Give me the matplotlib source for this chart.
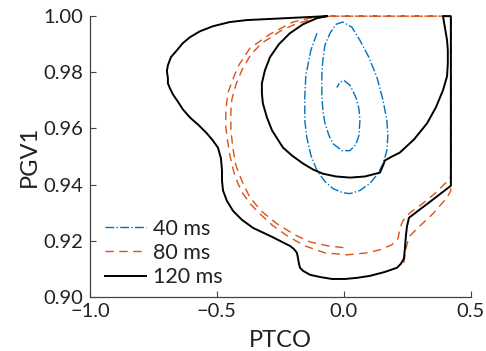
import numpy as np
import matplotlib
matplotlib.use('Agg')
import matplotlib.pyplot as plt

plt.rcParams['font.family'] = ['Lato', 'DejaVu Sans']

# trajectories in the (PTCO, PGV1) plane for three delays
ptco_40 = [-0.106, -0.130, -0.150, -0.154, -0.154, -0.146, -0.130, -0.106, -0.075, -0.043,
           -0.004, 0.024, 0.063, 0.102, 0.134, 0.154, 0.169, 0.173, 0.169, 0.154,
           0.130, 0.098, 0.063, 0.031, -0.004, -0.031, -0.055, -0.075, -0.083, -0.087,
           -0.087, -0.083, -0.075, -0.059, -0.043, -0.008, 0.024, 0.047, 0.059, 0.063,
           0.059, 0.047, 0.024, 0.000, -0.016, -0.028]
pgv1_40 = [0.9939, 0.9879, 0.9789, 0.9711, 0.9629, 0.9568, 0.9504, 0.9450, 0.9411, 0.9386,
           0.9371, 0.9368, 0.9379, 0.9404, 0.9439, 0.9475, 0.9521, 0.9575, 0.9629, 0.9700,
           0.9782, 0.9854, 0.9914, 0.9961, 0.9979, 0.9971, 0.9939, 0.9896, 0.9843, 0.9789,
           0.9725, 0.9664, 0.9621, 0.9575, 0.9546, 0.9521, 0.9521, 0.9543, 0.9575, 0.9629,
           0.9671, 0.9711, 0.9754, 0.9771, 0.9764, 0.9746]

ptco_80 = [0.236, 0.244, 0.256, 0.291, 0.350, 0.406, 0.421, 0.421,
           -0.055, -0.134, -0.201, -0.291, -0.370, -0.417, -0.445, -0.457, -0.465, -0.465,
           -0.465, -0.457, -0.449, -0.433, -0.417, -0.398, -0.366, -0.331, -0.280, -0.224,
           -0.154, -0.075, 0.012, 0.091, 0.142, 0.189, 0.213, 0.220, 0.232, 0.260,
           0.299, 0.358, 0.406, 0.421, 0.421,
           -0.055, -0.126, -0.193, -0.252, -0.323, -0.366, -0.402, -0.425, -0.441, -0.445,
           -0.445, -0.437, -0.425, -0.402, -0.370, -0.323, -0.264, -0.193, -0.134, -0.063,
           0.004]
pgv1_80 = [0.9121, 0.9171, 0.9214, 0.9246, 0.9296, 0.9354, 0.9379, 1.0000,
           1.0000, 0.9993, 0.9979, 0.9936, 0.9886, 0.9821, 0.9757, 0.9725, 0.9664, 0.9629,
           0.9604, 0.9550, 0.9504, 0.9443, 0.9404, 0.9368, 0.9329, 0.9296, 0.9254, 0.9218,
           0.9182, 0.9157, 0.9150, 0.9157, 0.9168, 0.9186, 0.9207, 0.9243, 0.9271, 0.9300,
           0.9325, 0.9368, 0.9411, 0.9429, 1.0000,
           1.0000, 0.9989, 0.9971, 0.9946, 0.9904, 0.9864, 0.9807, 0.9757, 0.9704, 0.9664,
           0.9593, 0.9529, 0.9468, 0.9414, 0.9354, 0.9304, 0.9261, 0.9221, 0.9196, 0.9182,
           0.9175]

ptco_120 = [-0.067, -0.106, -0.161, -0.213, -0.256, -0.291, -0.311, -0.323, -0.323, -0.319,
            -0.303, -0.283, -0.240, -0.205, -0.161, -0.122, -0.083, -0.031, 0.024, 0.083,
            0.142, 0.154, 0.161, 0.189, 0.220, 0.276, 0.327, 0.362, 0.390, 0.406,
            0.409, 0.409, 0.406, 0.398, 0.390, 0.421, 0.421, 0.339, 0.256, 0.248,
            0.244, 0.240, 0.236, 0.224, 0.209, 0.161, 0.102, 0.051, 0.004, -0.047,
            -0.094, -0.134, -0.161, -0.173, -0.177, -0.181, -0.185, -0.197, -0.213, -0.283,
            -0.358, -0.402, -0.437, -0.461, -0.476, -0.480, -0.480, -0.484, -0.496, -0.516,
            -0.539, -0.571, -0.606, -0.634, -0.657, -0.673, -0.685, -0.693, -0.693, -0.697,
            -0.693, -0.681, -0.657, -0.634, -0.606, -0.567, -0.516, -0.449, -0.382, -0.224,
            -0.067]
pgv1_120 = [1.0000, 0.9993, 0.9971, 0.9939, 0.9900, 0.9854, 0.9807, 0.9761, 0.9725, 0.9689,
            0.9639, 0.9593, 0.9532, 0.9504, 0.9475, 0.9454, 0.9439, 0.9429, 0.9425, 0.9429,
            0.9443, 0.9468, 0.9486, 0.9500, 0.9514, 0.9561, 0.9618, 0.9675, 0.9736, 0.9786,
            0.9832, 0.9879, 0.9914, 0.9957, 1.0000, 1.0000, 0.9396, 0.9339, 0.9282, 0.9250,
            0.9218, 0.9171, 0.9136, 0.9118, 0.9104, 0.9089, 0.9075, 0.9068, 0.9064, 0.9064,
            0.9071, 0.9079, 0.9093, 0.9104, 0.9118, 0.9139, 0.9157, 0.9171, 0.9182, 0.9214,
            0.9246, 0.9275, 0.9307, 0.9343, 0.9379, 0.9414, 0.9450, 0.9493, 0.9532, 0.9557,
            0.9582, 0.9611, 0.9639, 0.9668, 0.9700, 0.9721, 0.9743, 0.9761, 0.9779, 0.9804,
            0.9825, 0.9854, 0.9879, 0.9904, 0.9925, 0.9946, 0.9964, 0.9979, 0.9986, 0.9993,
            1.0000]

labels = ['40 ms', '80 ms', '120 ms']
colors = ['#0072BD', '#D95319', 'black']

fig = plt.figure(figsize=(4.86, 3.51), dpi=100)
ax = fig.add_axes([0.185, 0.154, 0.784, 0.80])

ax.plot(ptco_40, pgv1_40, '-.', color=colors[0], lw=1.0, label=labels[0], clip_on=False)
ax.plot(ptco_80, pgv1_80, '--', color=colors[1], lw=1.0, label=labels[1], clip_on=False,
        dashes=(6, 4))
ax.plot(ptco_120, pgv1_120, '-', color=colors[2], lw=1.4, label=labels[2], clip_on=False)

ax.set_xlim(-1.0, 0.5)
ax.set_ylim(0.90, 1.00)
ax.set_xticks([-1.0, -0.5, 0.0, 0.5])
ax.set_yticks(np.arange(0.90, 1.001, 0.02))
ax.set_yticklabels(['0.90', '0.92', '0.94', '0.96', '0.98', '1.00'])
ax.set_xticklabels(['\u22121.0', '\u22120.5', '0.0', '0.5'])

for side in ['top', 'right']:
    ax.spines[side].set_visible(False)
for side in ['left', 'bottom']:
    ax.spines[side].set_color('#444444')
    ax.spines[side].set_linewidth(0.9)
ax.tick_params(direction='in', length=4, width=0.8, color='#444444',
               labelsize=14.5, labelcolor='#222222')
ax.tick_params(axis='x', pad=4.5)
ax.tick_params(axis='y', pad=4.5)

ax.set_xlabel('PTCO', fontsize=17, color='#222222', labelpad=7)
ax.set_ylabel('PGV1', fontsize=17, color='#222222', labelpad=3)

ax.legend(loc='lower left', frameon=False, fontsize=15.5, handlelength=1.9,
          handletextpad=0.3, labelspacing=0.2, borderpad=0, borderaxespad=0,
          bbox_to_anchor=(0.04, 0.035), labelcolor='#222222')

fig.savefig('out.png', dpi=100)
